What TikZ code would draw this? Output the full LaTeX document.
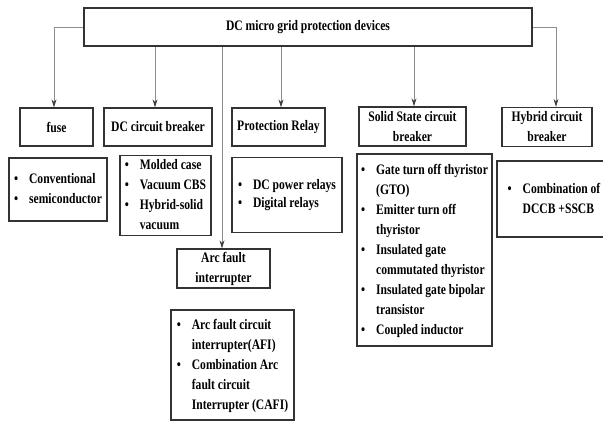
\documentclass[tikz,border=0pt]{standalone}
\usepackage{fontspec}
\setmainfont{Liberation Serif}[FakeStretch=0.8]
\usetikzlibrary{positioning}
\usetikzlibrary{arrows.meta}
\tikzset{
	headbox/.style={draw=black!80, line width=1.3pt, inner sep=0pt, align=center, minimum height=38pt},
	listbox/.style={draw=black!80, line width=1.3pt, inner sep=0pt},
	link/.style={draw=black!45, line width=0.9pt, -{Stealth[length=8pt,width=5pt,color=black!75]}},
}
\newcommand{\blist}[1]{\begin{tabular}{@{}c@{\hspace{11pt}}l@{}}#1\end{tabular}}

\begin{document}
\begin{tikzpicture}[x=1pt,y=-1pt,font=\fontsize{14.5}{20}\selectfont\bfseries]
	\useasboundingbox (0,0) rectangle (603,421);
	% top level
	\node[headbox, minimum width=448pt] (root) at (308,27) {DC micro grid protection devices};
	% device classes
	\node[headbox, minimum width=73pt] (fuse) at (56.5,127) {fuse};
	\node[headbox, minimum width=108pt] (dccb) at (158,127) {DC circuit breaker};
	\node[headbox, minimum width=93pt] (relay) at (278.5,127) {Protection Relay};
	\node[headbox, minimum width=107pt, minimum height=39pt] (sscb) at (412.5,126.5) {Solid State circuit\\breaker};
	\node[headbox, minimum width=90pt, minimum height=39pt] (hcb) at (547,127) {Hybrid circuit\\breaker};
	\node[headbox, minimum width=93pt, minimum height=39pt] (afi) at (223.5,268.5) {Arc fault\\interrupter};
	% lists
	\node[listbox, minimum width=98pt, minimum height=63pt] (fuselist) at (58,189.5) {\blist{
		\textbullet & Conventional\\
		\textbullet & semiconductor}};
	\node[listbox, minimum width=91pt, minimum height=75pt] (dccblist) at (165.5,195.5) {\blist{
		\textbullet & Molded case\\
		\textbullet & Vacuum CBS\\
		\textbullet & Hybrid-solid\\
		 & vacuum}};
	\node[listbox, minimum width=110pt, minimum height=75pt] (relaylist) at (287,195) {\renewcommand{\arraystretch}{0.9}\blist{
		\textbullet & DC power relays\\
		\textbullet & Digital relays}};
	\node[listbox, minimum width=135pt, minimum height=192pt] (sscblist) at (424.5,250) {\blist{
		\textbullet & Gate turn off thyristor\\
		 & (GTO)\\
		\textbullet & Emitter turn off\\
		 & thyristor\\
		\textbullet & Insulated gate\\
		 & commutated thyristor\\
		\textbullet & Insulated gate bipolar\\
		 & transistor\\
		\textbullet & Coupled inductor}};
	\node[listbox, minimum width=114pt, minimum height=76pt] (hcblist) at (554,199) {\blist{
		\textbullet & Combination of\\
		 & DCCB +SSCB}};
	\node[listbox, minimum width=123pt, minimum height=110pt] (afilist) at (232.5,365) {\blist{
		\textbullet & Arc fault circuit\\
		 & interrupter(AFI)\\
		\textbullet & Combination Arc\\
		 & fault circuit\\
		 & Interrupter (CAFI)}};
	% connectors
	\draw[link] (root.west) -| ([xshift=-2.5pt]fuse.north);
	\draw[link] ([xshift=-3pt]dccb.north |- root.south) -- ([xshift=-3pt]dccb.north);
	\draw[link] ([xshift=-1.5pt]afi.north |- root.south) -- ([xshift=-1.5pt]afi.north);
	\draw[link] ([xshift=2.5pt]relay.north |- root.south) -- ([xshift=2.5pt]relay.north);
	\draw[link] ([xshift=1.5pt]sscb.north |- root.south) -- ([xshift=1.5pt]sscb.north);
	\draw[link] (root.east) -| ([xshift=9pt]hcb.north);
\end{tikzpicture}
\end{document}
